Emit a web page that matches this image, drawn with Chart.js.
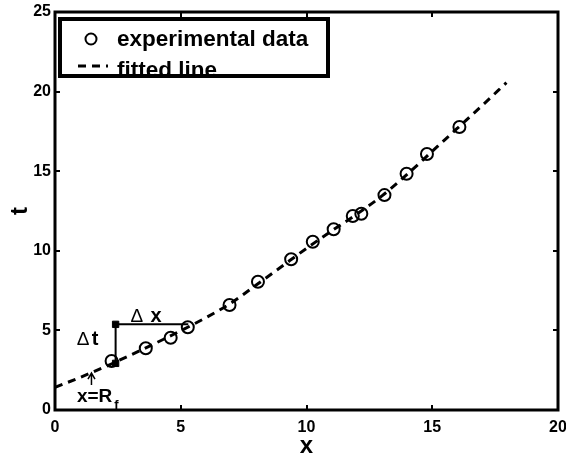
<!DOCTYPE html>
<html>
<head>
<meta charset="utf-8">
<script src="https://cdn.jsdelivr.net/npm/chart.js@4/dist/chart.umd.min.js"></script>
<style>
  html, body { margin: 0; padding: 0; background: #ffffff; }
  #wrap { width: 566px; height: 458px; }
</style>
</head>
<body>
<div id="wrap"><canvas id="chart" width="566" height="458"></canvas></div>
<script>
// Measured arrival points
const expX = [2.25, 3.61, 4.60, 5.28, 6.94, 8.07, 9.39, 10.25, 11.08, 11.84, 12.18, 13.10, 13.98, 14.79, 16.08];
const expT = [3.08, 3.88, 4.54, 5.20, 6.60, 8.06, 9.47, 10.57, 11.35, 12.19, 12.33, 13.50, 14.84, 16.08, 17.78];

// Fitted travel-time curve
const fitX = [0, 1, 2, 3, 4, 5, 6, 7, 8, 9, 10, 11, 12, 13, 14, 15, 16, 17, 17.95];
const fitT = [1.42, 2.05, 2.72, 3.45, 4.20, 4.98, 5.80, 6.72, 7.85, 9.00, 10.15, 11.25, 12.30, 13.45, 14.80, 16.25, 17.70, 19.15, 20.56];

// Slope bracket (Δt / Δx) corners
const bracketX = [2.41, 2.41, 5.30];
const bracketT = [2.93, 5.38, 5.38];

// Marker for x = R_f
const rfX = 1.45;
const rfArrowT = [1.57, 2.32];

// Axis ticks
const xTicks = [0, 5, 10, 15, 20];
const yTicks = [0, 5, 10, 15, 20, 25];

const FONT = '"Liberation Sans", Arial, Helvetica, sans-serif';
Chart.defaults.font.family = FONT;
Chart.defaults.color = '#000';

const toPoints = (xs, ys) => xs.map((x, i) => ({ x: x, y: ys[i] }));

// Box, inward ticks, annotations and the legend
const framePlugin = {
  id: 'framePlugin',
  afterDraw(chart) {
    const ctx = chart.ctx;
    const xs = chart.scales.x, ys = chart.scales.y;
    const a = chart.chartArea;
    ctx.save();
    ctx.strokeStyle = '#000';
    ctx.fillStyle = '#000';

    // inward ticks on all four sides
    ctx.lineWidth = 2;
    const tl = 5;
    ctx.beginPath();
    xTicks.forEach(v => {
      const px = Math.round(xs.getPixelForValue(v));
      ctx.moveTo(px, a.bottom); ctx.lineTo(px, a.bottom - tl);
      ctx.moveTo(px, a.top); ctx.lineTo(px, a.top + tl);
    });
    yTicks.forEach(v => {
      const py = Math.round(ys.getPixelForValue(v));
      ctx.moveTo(a.left, py); ctx.lineTo(a.left + tl, py);
      ctx.moveTo(a.right, py); ctx.lineTo(a.right - tl, py);
    });
    ctx.stroke();

    // axes box
    ctx.lineWidth = 3;
    ctx.strokeRect(a.left, a.top, a.right - a.left, a.bottom - a.top);

    // Δt and Δx labels
    const drawDelta = (letter, xv, tv, gap) => {
      const px = xs.getPixelForValue(xv), py = ys.getPixelForValue(tv);
      ctx.textAlign = 'left';
      ctx.textBaseline = 'alphabetic';
      ctx.font = '19px ' + FONT;
      ctx.fillText('\u0394', px, py);
      ctx.font = 'bold 20px ' + FONT;
      ctx.fillText(letter, px + gap, py);
    };
    drawDelta('t', 0.86, 4.08, 15);
    drawDelta('x', 3.00, 5.55, 20);

    // x = R_f
    {
      const px = xs.getPixelForValue(0.87), py = ys.getPixelForValue(0.52);
      ctx.font = 'bold 19px ' + FONT;
      ctx.textAlign = 'left';
      ctx.textBaseline = 'alphabetic';
      ctx.fillText('x=R', px, py);
      const w = ctx.measureText('x=R').width;
      ctx.font = 'bold 13px ' + FONT;
      ctx.fillText('f', px + w + 2, py + 7);
    }

    // arrow pointing at the curve
    {
      const px = xs.getPixelForValue(rfX);
      const y0 = ys.getPixelForValue(rfArrowT[0]);
      const y1 = ys.getPixelForValue(rfArrowT[1]);
      ctx.lineWidth = 1.5;
      ctx.beginPath();
      ctx.moveTo(px, y0); ctx.lineTo(px, y1);
      ctx.moveTo(px - 3.5, y1 + 6); ctx.lineTo(px, y1); ctx.lineTo(px + 3.5, y1 + 6);
      ctx.stroke();
    }

    // legend
    const L = { x: 60, y: 19, w: 268, h: 57 };
    ctx.fillStyle = '#fff';
    ctx.fillRect(L.x, L.y, L.w, L.h);
    ctx.fillStyle = '#000';
    ctx.font = 'bold 22.5px ' + FONT;
    ctx.textAlign = 'left';
    ctx.textBaseline = 'alphabetic';
    ctx.fillText('experimental data', 117, 45.5);
    ctx.fillText('fitted line', 117, 77);
    ctx.lineWidth = 2;
    ctx.beginPath();
    ctx.arc(91, 39, 5.5, 0, Math.PI * 2);
    ctx.stroke();
    ctx.lineWidth = 3;
    ctx.setLineDash([8, 6]);
    ctx.beginPath();
    ctx.moveTo(78, 66); ctx.lineTo(108, 66);
    ctx.stroke();
    ctx.setLineDash([]);
    ctx.lineWidth = 4;
    ctx.strokeRect(L.x, L.y, L.w, L.h);

    ctx.restore();
  }
};

new Chart(document.getElementById('chart'), {
  type: 'scatter',
  data: {
    datasets: [
      {
        label: 'fitted line',
        data: toPoints(fitX, fitT),
        showLine: true,
        borderColor: '#000',
        borderWidth: 3,
        borderDash: [8, 6],
        borderCapStyle: 'butt',
        pointRadius: 0,
        cubicInterpolationMode: 'monotone',
        fill: false
      },
      {
        label: 'bracket',
        data: toPoints(bracketX, bracketT),
        showLine: true,
        borderColor: '#000',
        borderWidth: 2,
        pointStyle: 'rect',
        pointRadius: [4.5, 4.5, 0],
        pointBorderWidth: 1,
        pointBackgroundColor: '#000',
        pointBorderColor: '#000',
        fill: false
      },
      {
        label: 'experimental data',
        data: toPoints(expX, expT),
        showLine: false,
        pointStyle: 'circle',
        pointRadius: 6,
        pointBorderWidth: 2,
        pointBorderColor: '#000',
        pointBackgroundColor: 'rgba(0,0,0,0)'
      }
    ]
  },
  options: {
    responsive: false,
    maintainAspectRatio: false,
    devicePixelRatio: 1,
    animation: false,
    events: [],
    layout: { padding: { top: 12, right: 7, left: 0, bottom: 0 } },
    plugins: {
      legend: { display: false },
      tooltip: { enabled: false }
    },
    scales: {
      x: {
        type: 'linear',
        min: 0,
        max: 20,
        afterBuildTicks: (s) => { s.ticks = xTicks.map(v => ({ value: v })); },
        afterFit: (s) => { s.height = 48; s.paddingLeft = 0; s.paddingRight = 0; },
        grid: { display: false, drawTicks: false },
        border: { display: false },
        ticks: {
          font: { size: 16, weight: 'bold' },
          color: '#000',
          padding: 8,
          maxRotation: 0,
          autoSkip: false
        },
        title: {
          display: true,
          text: 'x',
          font: { size: 24, weight: 'bold', lineHeight: 1 },
          color: '#000',
          padding: { top: 0, bottom: 0 }
        }
      },
      y: {
        type: 'linear',
        min: 0,
        max: 25,
        afterBuildTicks: (s) => { s.ticks = yTicks.map(v => ({ value: v })); },
        afterFit: (s) => { s.width = 55; s.paddingTop = 0; s.paddingBottom = 0; },
        grid: { display: false, drawTicks: false },
        border: { display: false },
        ticks: {
          font: { size: 16, weight: 'bold' },
          color: '#000',
          padding: 4,
          autoSkip: false
        },
        title: {
          display: true,
          text: 't',
          font: { size: 24, weight: 'bold', lineHeight: 1 },
          color: '#000',
          padding: { top: 8, bottom: 0 }
        }
      }
    }
  },
  plugins: [framePlugin]
});
</script>
</body>
</html>
